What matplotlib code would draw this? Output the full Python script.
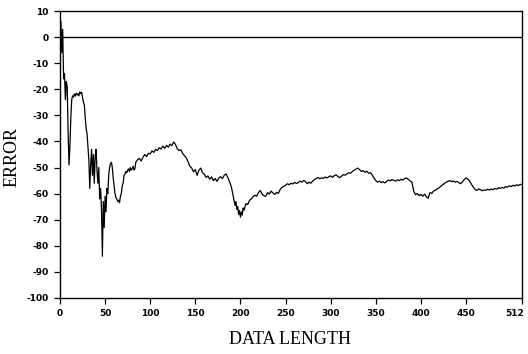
import matplotlib
matplotlib.use("Agg")
import matplotlib.pyplot as plt
from matplotlib.transforms import ScaledTranslation

# error curve
err_x = [0, 1, 2, 3, 4, 5, 6, 7, 8, 9, 10, 11, 12, 13, 14, 15, 16, 17, 18, 19,
         20, 21, 22, 23, 24, 25, 26, 27, 28, 29, 30, 31, 32, 33, 34, 35, 36, 37, 38, 39,
         40, 41, 42, 43, 44, 45, 46, 47, 48, 49, 50, 51, 52, 53, 54, 55, 56, 57, 58, 59,
         60, 61, 62, 63, 64, 65, 66, 67, 68, 69, 70, 71, 72, 73, 74, 75, 76, 77, 78, 79,
         80, 81, 82, 83, 84, 86, 88, 90, 92, 94, 96, 98, 100, 102, 104, 106, 108, 110,
         112, 114, 116, 118, 120, 122, 124, 126, 128, 130, 132, 134, 136, 138, 140, 142,
         144, 146, 148, 150, 152, 154, 156, 158, 160, 162, 164, 166, 168, 170, 172, 174,
         176, 178, 180, 182, 184, 186, 188, 190, 192, 194, 195, 196, 197, 198, 199, 200,
         201, 202, 203, 204, 206, 208, 210, 212, 214, 216, 218, 220, 222, 224, 226, 228,
         230, 232, 234, 236, 238, 240, 242, 244, 246, 248, 250, 252, 254, 256, 258, 260,
         262, 264, 266, 268, 270, 272, 274, 276, 278, 280, 282, 284, 286, 288, 290, 292,
         294, 296, 298, 300, 302, 304, 306, 308, 310, 312, 314, 316, 318, 320, 322, 324,
         326, 328, 330, 332, 334, 336, 338, 340, 342, 344, 346, 348, 350, 352, 354, 356,
         358, 360, 362, 364, 366, 368, 370, 372, 374, 376, 378, 380, 382, 384, 386, 388,
         390, 392, 394, 396, 398, 400, 402, 404, 406, 408, 410, 412, 414, 416, 418, 420,
         422, 424, 426, 428, 430, 432, 434, 436, 438, 440, 442, 444, 446, 448, 450, 452,
         454, 456, 458, 460, 462, 464, 466, 468, 470, 472, 474, 476, 478, 480, 482, 484,
         486, 488, 490, 492, 494, 496, 498, 500, 502, 504, 506, 508, 510, 511]
err_y = [-12, 6, -6, 3, -16, -14, -24, -17, -19, -36, -49, -42, -31, -24, -22.5, -23, -21.8, -22.6, -21.5, -22.2,
         -21.7, -22.5, -21, -21.6, -21.2, -23, -25, -26, -31, -35, -37, -42, -47, -58, -49, -43, -53, -45, -56, -46,
         -43, -51, -56, -50, -62, -58, -66, -84, -63, -73, -61, -67, -58, -60, -53, -50, -48.5, -48, -50, -54,
         -57, -60, -61.5, -62, -63, -62.5, -63.5, -61, -60, -57, -56, -53, -52.5, -51.5, -52, -51, -50.5, -51.5, -50, -51,
         -50.5, -49.5, -51, -50.5, -48, -47, -46.5, -47.5, -46, -45, -45.8, -44.5, -44.8, -43.6, -44.2, -43, -43.5, -42.4,
         -42.9, -41.8, -42.6, -41.5, -42.2, -41, -41.6, -40.2, -41.2, -42.8, -43.5, -43.2, -44.6, -45.5, -46.3, -47.8,
         -49.5, -50.2, -51.6, -50.8, -53, -51, -50.2, -52, -52.6, -53.8, -53.2, -54.5, -53.6, -55, -54.2, -55.3,
         -54, -53.5, -54.2, -53, -52.4, -53.8, -55.5, -57.5, -61, -64.5, -63, -66, -65, -68, -66.5, -69,
         -67, -68.2, -65.5, -66.4, -63.8, -64.2, -62.6, -62, -61.2, -60.6, -61, -59.6, -58.8, -60.2, -60.8, -61,
         -59.6, -60.2, -59, -59.8, -60.3, -59.5, -59.9, -58.4, -57.6, -57.2, -56.8, -56.2, -56.6, -56, -56.3, -55.7,
         -56.1, -55.8, -55.2, -55.6, -55, -55.3, -56.2, -55.6, -56, -55.2, -54.6, -54.2, -53.8, -54.3, -53.9, -54.1,
         -53.6, -54, -53.5, -53.2, -53.7, -53.1, -52.8, -53.4, -53.9, -53.3, -52.7, -52.9, -52.4, -52, -52.2, -51.5,
         -51, -50.6, -50.2, -50.8, -51.5, -51.2, -51.8, -51.4, -52.2, -52, -52.8, -54, -55, -55.6, -55.2, -55.8,
         -55.4, -55.9, -55.3, -54.8, -55.1, -54.6, -54.9, -55.2, -54.7, -55, -54.5, -54.8, -54.2, -54, -54.5, -55.1,
         -55.6, -59, -60.4, -60, -60.8, -60.3, -61, -60.2, -61.2, -61.8, -59.6, -59.9, -59, -58.7, -58.2, -57.8,
         -57.2, -56.6, -56.1, -55.6, -55.3, -55, -55.4, -55.2, -55.6, -55.3, -55.8, -56.2, -55.5, -54.6, -54, -54.4,
         -55.2, -56.4, -57.5, -58.4, -58.8, -58.2, -58.5, -58.9, -58.6, -58.7, -58.3, -58.6, -58.2, -58.5, -58, -58.3,
         -57.7, -58, -57.6, -57.9, -57.3, -57.5, -57, -57.3, -56.8, -57.1, -56.6, -56.9, -56.4, -56.6]

x_ticks = [0, 50, 100, 150, 200, 250, 300, 350, 400, 450, 512]
y_ticks = [10, 0, -10, -20, -30, -40, -50, -60, -70, -80, -90, -100]

plt.rcParams['axes.unicode_minus'] = False

fig = plt.figure(figsize=(5.28, 3.54), dpi=100)
ax = fig.add_axes([0.1136, 0.1582, 0.875, 0.8107])

ax.plot(err_x, err_y, color='black', linewidth=0.9)
ax.axhline(0, color='black', linewidth=1.0)

ax.set_xlim(0, 512)
ax.set_ylim(-100, 10)
ax.set_xticks(x_ticks)
ax.set_yticks(y_ticks)
ax.tick_params(direction='out', length=4, width=0.9, pad=4,
               labelsize=6.5, colors='black')
for lab in ax.get_xticklabels() + ax.get_yticklabels():
    lab.set_fontweight('bold')
# last x label sits against the right edge, pull it in a little
last = ax.get_xticklabels()[-1]
last.set_transform(last.get_transform() + ScaledTranslation(-7 / 100, 0, fig.dpi_scale_trans))
for sp in ax.spines.values():
    sp.set_linewidth(1.0)

fig.text(290 / 528, 1 - 340 / 354, 'DATA LENGTH', family='Liberation Serif',
         fontsize=13, ha='center', va='center')
fig.text(12 / 528, 1 - 157 / 354, 'ERROR', family='Liberation Serif',
         fontsize=13, rotation=90, ha='center', va='center')

fig.savefig('out.png', dpi=100)
